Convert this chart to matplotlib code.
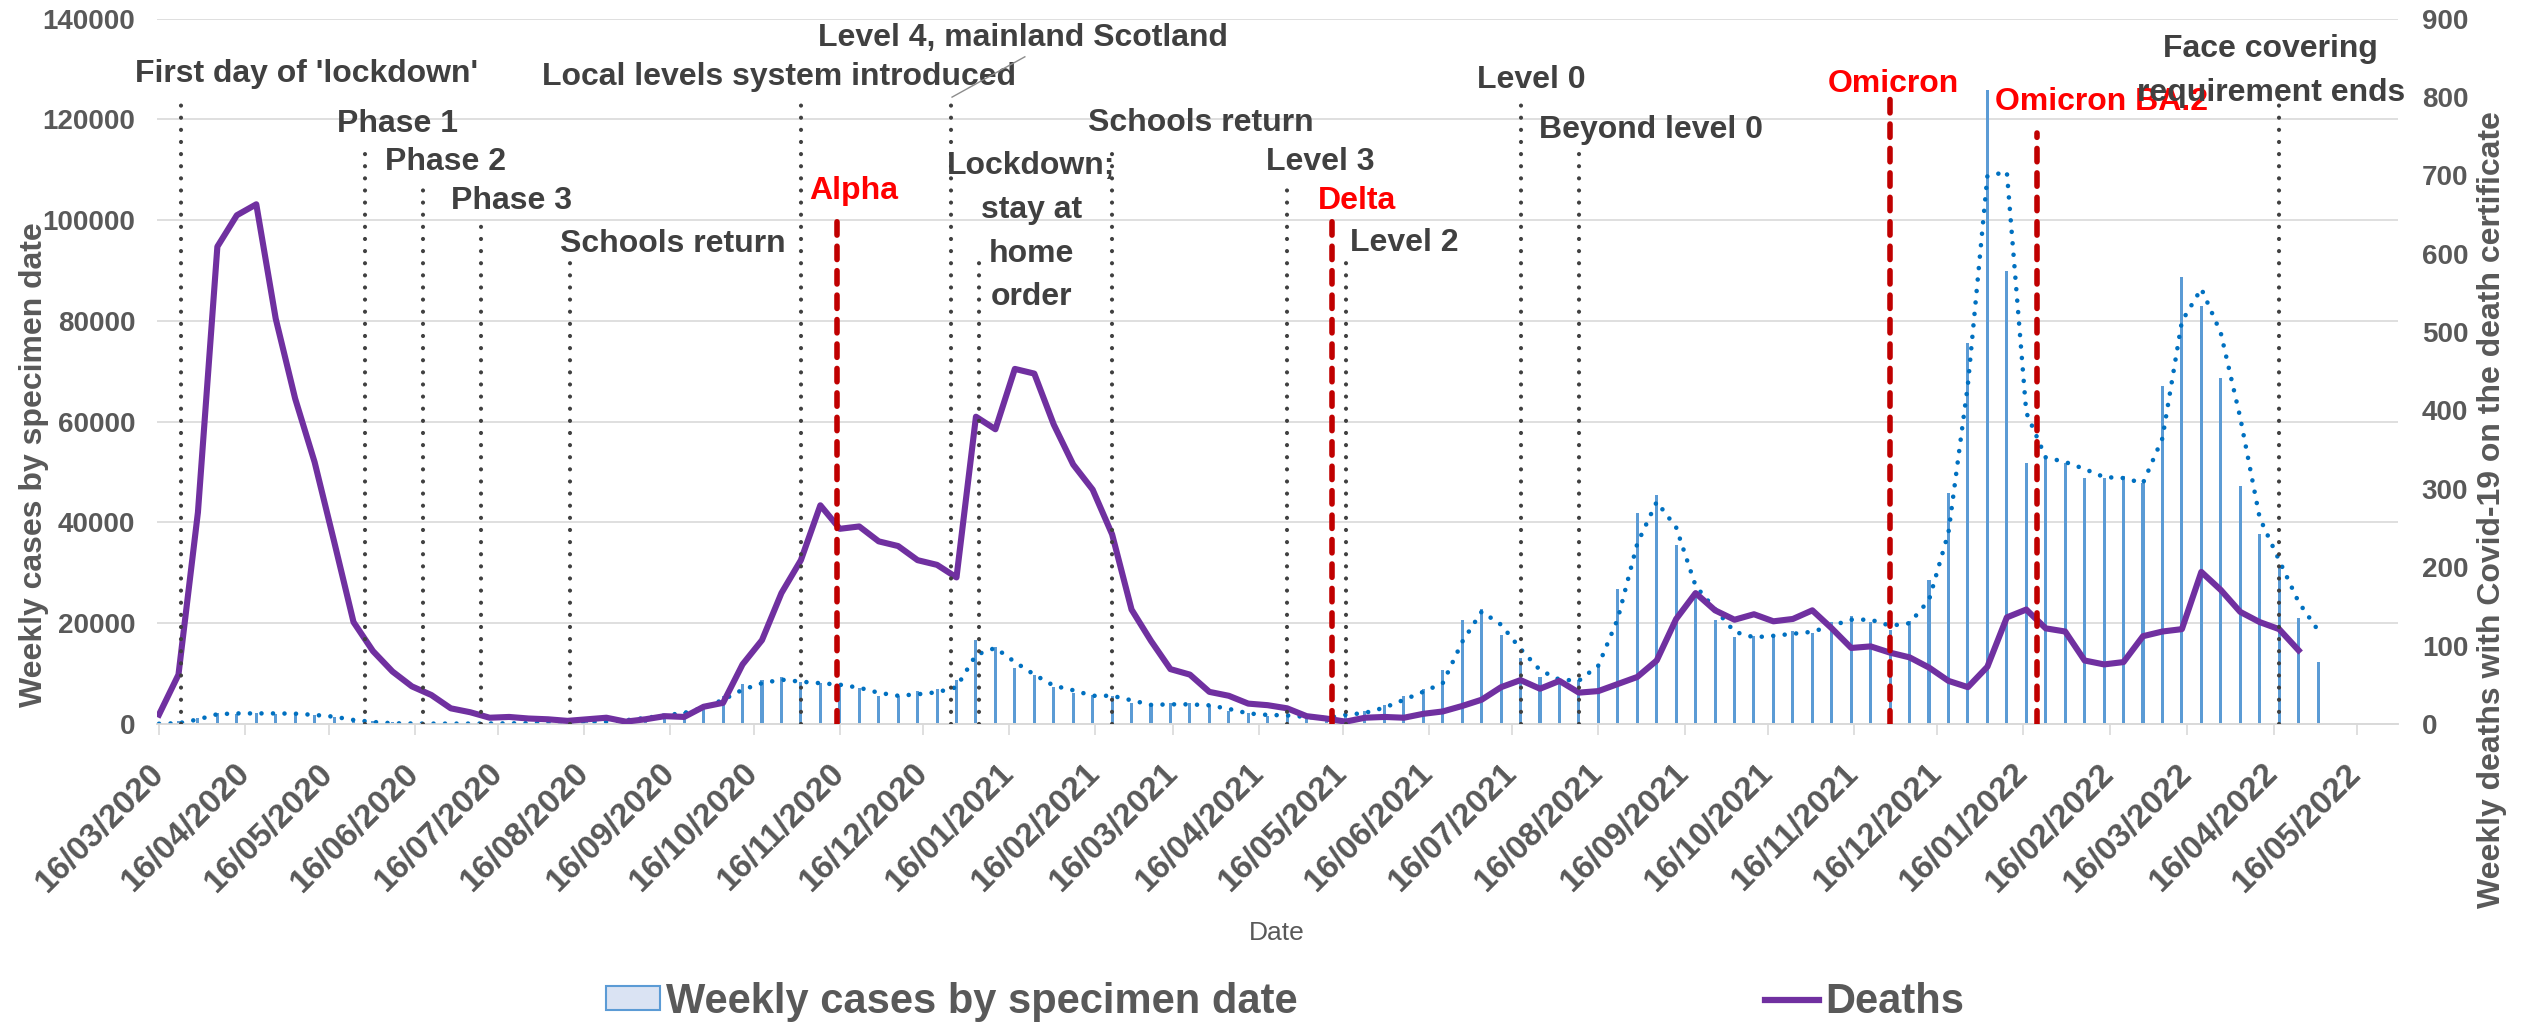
import numpy as np
import pandas as pd
import matplotlib
matplotlib.use("Agg")
import matplotlib.pyplot as plt
import matplotlib.dates as mdates
from matplotlib.patches import Patch
from matplotlib.lines import Line2D

plt.rcParams["font.family"] = ["Liberation Sans", "DejaVu Sans"]
plt.rcParams["font.weight"] = "bold"

# ---------------------------------------------------------------------
# data, one value per week from 16/03/2020
# ---------------------------------------------------------------------
FIRST_WEEK = "2020-03-16"

weekly_cases = [
    250, 500, 1100, 2250, 2000, 2100, 2000, 2100, 1800, 1400,
    900, 500, 300, 200, 150, 120, 100, 120, 150, 180,
    250, 300, 400, 600, 900, 1300, 1700, 2300, 3700, 5600,
    7900, 8800, 9300, 8400, 8100, 7900, 7200, 5600, 5600, 6500,
    7000, 8800, 16700, 15300, 11100, 9800, 7300, 6200, 5850, 5500,
    4200, 3700, 4200, 4200, 3700, 2500, 2100, 1600, 1600, 1400,
    1400, 1800, 2600, 3700, 5600, 7000, 10700, 20600, 22800, 17700,
    13000, 9300, 7900, 8800, 11800, 26700, 41800, 45500, 35500, 25500,
    20600, 17200, 17400, 17700, 18400, 18100, 20200, 21400, 20200, 18600,
    20400, 28500, 45800, 75700, 125900, 89800, 51800, 53100, 51700, 48800,
    48800, 49200, 47800, 67100, 88700, 82900, 68700, 47200, 37800, 31000,
    21100, 12400,
]

cases_trend = [
    50, 150, 900, 1950, 2100, 2100, 2100, 2050, 1800, 1450,
    800, 400, 150, 100, 80, 80, 80, 100, 130, 180,
    250, 320, 400, 460, 740, 1200, 1700, 2200, 3250, 4800,
    6800, 8100, 8800, 8400, 8100, 7800, 7200, 6200, 5600, 5900,
    6300, 7300, 13700, 15100, 12300, 9800, 7600, 6700, 5600, 5600,
    4700, 3800, 3900, 3900, 3700, 3000, 2100, 1800, 1700, 1400,
    1200, 1800, 2200, 3250, 4800, 6400, 8100, 16300, 22300, 19700,
    14900, 10700, 8800, 8600, 11600, 20900, 35800, 44100, 39000, 27400,
    22800, 18300, 17200, 17500, 17900, 18300, 19500, 20700, 20700, 19500,
    20000, 24600, 38000, 67400, 108700, 109600, 61800, 52900, 52000, 50600,
    49000, 48800, 47800, 56700, 79900, 86400, 77600, 60800, 40900, 32500,
    24200, 18600,
]

weekly_deaths = [
    12, 63, 270, 609, 649, 663, 517, 415, 334, 233,
    130, 93, 67, 48, 37, 20, 15, 8, 9, 7,
    6, 4, 6, 8, 3, 6, 10, 9, 22, 27,
    76, 107, 167, 209, 279, 249, 252, 233, 227, 209,
    203, 187, 392, 376, 453, 447, 382, 331, 299, 242,
    146, 106, 70, 63, 41, 36, 26, 24, 20, 10,
    7, 3, 8, 9, 8, 13, 16, 23, 31, 47,
    56, 45, 55, 40, 42, 51, 60, 81, 134, 167,
    145, 133, 140, 131, 134, 145, 122, 97, 99, 91,
    85, 72, 55, 47, 73, 136, 146, 122, 118, 81,
    76, 79, 112, 118, 121, 194, 171, 143, 130, 121, 94,
]

event_names = [
    "First day of 'lockdown'", "Phase 1", "Phase 2", "Phase 3",
    "Schools return", "Local levels system introduced", "Alpha",
    "Level 4, mainland Scotland", "Lockdown;\nstay at\nhome\norder",
    "Schools return", "Level 3", "Delta", "Level 2", "Level 0",
    "Beyond level 0", "Omicron", "Omicron BA.2",
    "Face covering\nrequirement ends",
]
event_dates = [
    "2020-03-24", "2020-05-29", "2020-06-19", "2020-07-10", "2020-08-11",
    "2020-11-02", "2020-11-15", "2020-12-26", "2021-01-05", "2021-02-22",
    "2021-04-26", "2021-05-12", "2021-05-17", "2021-07-19", "2021-08-09",
    "2021-11-29", "2022-01-21", "2022-04-18",
]
event_is_variant = [
    False, False, False, False, False, False, True, False, False, False,
    False, True, False, False, False, True, True, False,
]
# height the marker line reaches, on the cases axis
event_line_tops = [
    124400, 114900, 107400, 100000, 92700, 124400, 101400, 124400, 92700,
    114500, 107400, 101400, 92700, 124400, 114900, 124400, 117300, 124400,
]

# where each event label sits (centre), cases-axis units
label_x = [
    "2020-05-08", "2020-06-10", "2020-06-27", "2020-07-21", "2020-09-17",
    "2020-10-25", "2020-11-21", "2021-01-21", "2021-01-24", "2021-03-26",
    "2021-05-08", "2021-05-21", "2021-06-07", "2021-07-23", "2021-09-04",
    "2021-11-30", "2022-02-13", "2022-04-15",
]
label_y = [
    129000, 119100, 111600, 103800, 95250, 128400, 105700, 136100, 97700,
    119300, 111500, 103800, 95450, 127800, 117800, 127100, 123350, 129600,
]

CASES_MAX = 140000
DEATHS_MAX = 900

GRID = "#D9D9D9"
TXT = "#595959"
EVT = "#404040"


def dnum(s):
    return mdates.date2num(pd.Timestamp(s))


def main():
    weeks = pd.date_range(FIRST_WEEK, periods=len(weekly_cases), freq="7D")
    wnum = mdates.date2num(weeks)

    fig = plt.figure(figsize=(25.26, 10.25), dpi=100)
    ax = fig.add_axes([0.06235, 0.29366, 0.88678, 0.68829])
    ax2 = ax.twinx()

    # cases: thin bars + dotted trend
    ax.bar(wnum, weekly_cases, width=1.1, color="#5B9BD5", zorder=2)
    ax.plot(wnum, cases_trend, color="#0070C0", lw=3.3,
            ls=(0, (0.01, 2.5)), dash_capstyle="round", zorder=3)

    ax.set_ylim(0, CASES_MAX)
    ax.set_yticks(np.arange(0, CASES_MAX + 1, 20000))
    ax.grid(axis="y", color=GRID, lw=1.2)
    ax.set_axisbelow(True)

    # deaths on the secondary axis
    ax2.plot(wnum[:len(weekly_deaths)], weekly_deaths, color="#7030A0",
             lw=4.4, solid_joinstyle="round", zorder=3)
    ax2.set_ylim(0, DEATHS_MAX)
    ax2.set_yticks(np.arange(0, DEATHS_MAX + 1, 100))

    # event markers and labels (drawn on top)
    for name, d, var, top, lx, ly in zip(event_names, event_dates,
                                         event_is_variant, event_line_tops,
                                         label_x, label_y):
        if var:
            ax2.axvline(dnum(d), 0, top / CASES_MAX, color="#C00000", lw=4.0,
                        ls=(0, (2.4, 2.0)), dash_capstyle="round", zorder=4)
            col = "#FF0000"
        else:
            ax2.axvline(dnum(d), 0, top / CASES_MAX, color=EVT, lw=3.0,
                        ls=(0, (0.01, 2.9)), dash_capstyle="round", zorder=4)
            col = EVT
        ax2.text(dnum(lx), ly, name, transform=ax.transData, ha="center",
                 va="center", fontsize=23, fontweight="bold", color=col,
                 linespacing=1.6, zorder=5)

    # leader line from the Level 4 marker to its label
    ax2.plot([dnum("2020-12-26") + 0.4, dnum("2021-01-21") + 0.6],
             [124400, 132400], transform=ax.transData, color="#8C8C8C",
             lw=1.0, zorder=5)

    # x axis: monthly ticks on the 16th
    ticks = pd.date_range("2020-03-01", "2022-05-01", freq="MS") + pd.Timedelta(days=15)
    ax.set_xticks(mdates.date2num(ticks))
    ax.set_xticklabels([t.strftime("%d/%m/%Y") for t in ticks], rotation=45,
                       ha="right", va="center", rotation_mode="anchor",
                       fontsize=24, fontweight="bold", color=TXT)
    ax.set_xlim(dnum(FIRST_WEEK) - 0.55, dnum("2022-05-16") + 14.6)
    ax.tick_params(axis="x", length=8, width=1.2, color=GRID, pad=24)

    ax.tick_params(axis="y", length=0, pad=16, labelsize=20, labelcolor=TXT)
    ax2.tick_params(axis="y", length=0, pad=17.5, labelsize=20, labelcolor=TXT)
    for lab in ax.get_yticklabels() + ax2.get_yticklabels():
        lab.set_fontweight("bold")

    for a in (ax, ax2):
        for side in ("top", "left", "right"):
            a.spines[side].set_visible(False)
        a.spines["bottom"].set_color(GRID)
        a.spines["bottom"].set_linewidth(1.2)

    # axis titles
    fig.text(34 / 2526, 1 - 465 / 1025, "Weekly cases by specimen date",
             rotation=90, ha="center", va="center", fontsize=23,
             fontweight="bold", color=TXT)
    fig.text(2492 / 2526, 1 - 510 / 1025,
             "Weekly deaths with Covid-19 on the death certificate",
             rotation=90, ha="center", va="center", fontsize=23,
             fontweight="bold", color=TXT)
    fig.text(1277 / 2526, 1 - 933 / 1025, "Date", ha="center", va="center",
             fontsize=19, fontweight="normal", color=TXT)

    handles = [Patch(facecolor="#DAE3F3", edgecolor="#5B9BD5", lw=1.5),
               Line2D([], [], color="#7030A0", lw=4.5)]
    fig.legend(handles, ["Weekly cases by specimen date", "Deaths"],
               loc="center", bbox_to_anchor=(1285 / 2526, 1 - 1002 / 1025),
               ncol=2, frameon=False, prop={"size": 30, "weight": "bold"},
               labelcolor=TXT, handlelength=1.3, handleheight=0.5,
               handletextpad=0.15, columnspacing=11.2)

    fig.savefig("out.png", dpi=100)


if __name__ == "__main__":
    main()
